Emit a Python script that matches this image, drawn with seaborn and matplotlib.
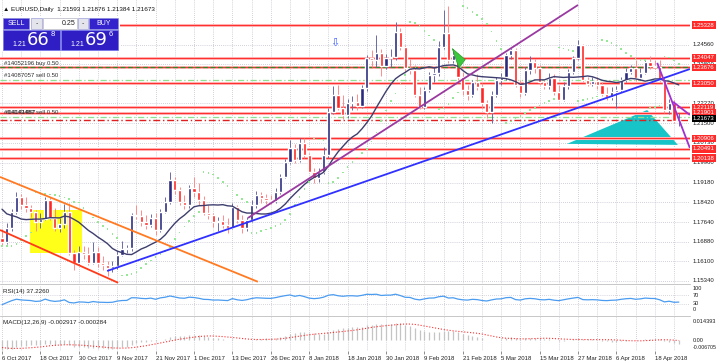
"""
EURUSD daily chart (MT4 style) rebuilt with seaborn / matplotlib.
"""

import matplotlib
matplotlib.use("Agg")

import matplotlib.pyplot as plt
from matplotlib.patches import Polygon, Rectangle
import numpy as np
import pandas as pd
import seaborn as sns


W, H = 717, 363

# closes before the first visible bar (only used to warm up MA / RSI / MACD)
HISTORY_CLOSES = [1.1995, 1.1890, 1.1940, 1.1950, 1.1850, 1.1790, 1.1750,
                  1.1780, 1.1815, 1.1735, 1.1745, 1.1765, 1.1705]

FIRST_OPEN = 1.1702

CLOSES = [
    1.1687, 1.1741, 1.1804, 1.1862, 1.1831, 1.1819, 1.1804, 1.1765, 1.1776, 1.1850,
    1.1780, 1.1741, 1.1757, 1.1804, 1.1644, 1.1605, 1.1648, 1.1640, 1.1605, 1.1648,
    1.1605, 1.1597, 1.1585, 1.1593, 1.1636, 1.1659, 1.1663, 1.1792, 1.1788, 1.1765,
    1.1753, 1.1780, 1.1733, 1.1804, 1.1843, 1.1928, 1.1889, 1.1843, 1.1831, 1.1897,
    1.1882, 1.1850, 1.1800, 1.1792, 1.1765, 1.1768, 1.1753, 1.1741, 1.1823, 1.1772,
    1.1741, 1.1772, 1.1831, 1.1870, 1.1858, 1.1850, 1.1846, 1.1882, 1.1940, 1.1999,
    1.2053, 1.2006, 1.2073, 1.2026, 1.1960, 1.1936, 1.1960, 1.2026, 1.2194, 1.2260,
    1.2209, 1.2182, 1.2229, 1.2232, 1.2217, 1.2287, 1.2404, 1.2396, 1.2424, 1.2373,
    1.2404, 1.2408, 1.2505, 1.2447, 1.2365, 1.2357, 1.2260, 1.2213, 1.2279, 1.2338,
    1.2346, 1.2447, 1.2502, 1.2396, 1.2416, 1.2330, 1.2279, 1.2260, 1.2310, 1.2291,
    1.2229, 1.2194, 1.2260, 1.2318, 1.2330, 1.2416, 1.2435, 1.2299, 1.2268, 1.2357,
    1.2388, 1.2365, 1.2310, 1.2295, 1.2326, 1.2271, 1.2240, 1.2295, 1.2349, 1.2404,
    1.2455, 1.2318, 1.2303, 1.2314, 1.2299, 1.2264, 1.2252, 1.2271, 1.2279, 1.2318,
    1.2349, 1.2365, 1.2326, 1.2346, 1.2388, 1.2373, 1.2369, 1.2318, 1.2201, 1.2229,
    1.2159, 1.21673,
]

HIGHS = [
    1.1735, 1.1760, 1.1815, 1.1880, 1.1875, 1.1860, 1.1830, 1.1810, 1.1800, 1.1860,
    1.1862, 1.1820, 1.1780, 1.1835, 1.1840, 1.1655, 1.1670, 1.1670, 1.1665, 1.1688,
    1.1665, 1.1630, 1.1610, 1.1610, 1.1650, 1.1690, 1.1675, 1.1800, 1.1830, 1.1810,
    1.1790, 1.1795, 1.1800, 1.1815, 1.1860, 1.1960, 1.1940, 1.1900, 1.1870, 1.1910,
    1.1940, 1.1915, 1.1865, 1.1830, 1.1800, 1.1785, 1.1790, 1.1780, 1.1840, 1.1830,
    1.1790, 1.1785, 1.1850, 1.1885, 1.1880, 1.1875, 1.1870, 1.1895, 1.1950, 1.2010,
    1.2085, 1.2070, 1.2090, 1.2090, 1.2035, 1.1975, 1.1975, 1.2055, 1.2210, 1.2295,
    1.2300, 1.2260, 1.2245, 1.2255, 1.2265, 1.2300, 1.2415, 1.2435, 1.2494, 1.2440,
    1.2420, 1.2440, 1.2545, 1.2520, 1.2455, 1.2400, 1.2375, 1.2290, 1.2290, 1.2350,
    1.2370, 1.2470, 1.2590, 1.2606, 1.2440, 1.2425, 1.2350, 1.2300, 1.2320, 1.2340,
    1.2305, 1.2240, 1.2275, 1.2330, 1.2345, 1.2425, 1.2445, 1.2445, 1.2320, 1.2370,
    1.2410, 1.2400, 1.2375, 1.2320, 1.2345, 1.2340, 1.2300, 1.2310, 1.2360, 1.2410,
    1.2475, 1.2460, 1.2330, 1.2330, 1.2330, 1.2310, 1.2290, 1.2290, 1.2295, 1.2330,
    1.2365, 1.2375, 1.2395, 1.2365, 1.2395, 1.2410, 1.2395, 1.2395, 1.2330, 1.2245,
    1.2240, 1.21876,
]

LOWS = [
    1.1670, 1.1680, 1.1730, 1.1795, 1.1815, 1.1805, 1.1785, 1.1730, 1.1740, 1.1770,
    1.1770, 1.1730, 1.1725, 1.1740, 1.1635, 1.1575, 1.1595, 1.1620, 1.1595, 1.1600,
    1.1590, 1.1575, 1.1555, 1.1570, 1.1580, 1.1630, 1.1645, 1.1650, 1.1775, 1.1750,
    1.1735, 1.1745, 1.1715, 1.1725, 1.1800, 1.1835, 1.1875, 1.1830, 1.1815, 1.1820,
    1.1860, 1.1830, 1.1790, 1.1775, 1.1745, 1.1730, 1.1740, 1.1720, 1.1735, 1.1760,
    1.1720, 1.1730, 1.1765, 1.1820, 1.1840, 1.1835, 1.1835, 1.1840, 1.1875, 1.1935,
    1.1990, 1.1995, 1.2000, 1.2015, 1.1955, 1.1915, 1.1920, 1.1950, 1.2015, 1.2185,
    1.2200, 1.2165, 1.2170, 1.2200, 1.2200, 1.2210, 1.2275, 1.2370, 1.2370, 1.2335,
    1.2360, 1.2370, 1.2395, 1.2435, 1.2350, 1.2340, 1.2250, 1.2205, 1.2205, 1.2270,
    1.2310, 1.2335, 1.2440, 1.2385, 1.2385, 1.2320, 1.2260, 1.2240, 1.2250, 1.2280,
    1.2210, 1.2170, 1.2151, 1.2250, 1.2300, 1.2320, 1.2400, 1.2290, 1.2250, 1.2260,
    1.2340, 1.2345, 1.2300, 1.2285, 1.2285, 1.2260, 1.2235, 1.2235, 1.2285, 1.2340,
    1.2395, 1.2310, 1.2295, 1.2295, 1.2285, 1.2255, 1.2240, 1.2240, 1.2210, 1.2270,
    1.2310, 1.2340, 1.2315, 1.2320, 1.2340, 1.2360, 1.2360, 1.2310, 1.2190, 1.2185,
    1.2150, 1.21384,
]

DATE_LABELS = ["6 Oct 2017", "18 Oct 2017", "30 Oct 2017", "9 Nov 2017",
               "21 Nov 2017", "1 Dec 2017", "13 Dec 2017", "26 Dec 2017",
               "8 Jan 2018", "18 Jan 2018", "30 Jan 2018", "9 Feb 2018",
               "21 Feb 2018", "5 Mar 2018", "15 Mar 2018", "27 Mar 2018",
               "6 Apr 2018", "18 Apr 2018"]
LABEL_STEP = 8

RED_LEVELS = [1.25328, 1.24047, 1.23676, 1.23050, 1.22119, 1.21901,
              1.20906, 1.20491, 1.20138]
PRICE_GRID = [1.15340, 1.16100, 1.16880, 1.17640, 1.18420, 1.19180, 1.19960,
              1.20730, 1.21500, 1.22270, 1.23040, 1.23800, 1.24560, 1.25330]
LAST_PRICE = 1.21673

BUY_ORDER = 1.2370
SELL_ORDER_1 = 1.2318
SELL_ORDER_2 = 1.2173
STOP_LINE = 1.2164

# drawn objects: (bar index, price) anchors
ORANGE_LINE = [(-0.42, 1.1940), (53.3, 1.1531)]
CHANNEL_LOW = [(-0.42, 1.1733), (24.2, 1.1527)]
BLUE_LINE = [(21.9, 1.1573), (143.3, 1.2361)]
PURPLE_LINE = [(51.25, 1.1780), (120.0, 1.2611)]
DOWN_LINE_1 = [(136.5, 1.2385), (143.3, 1.2053)]
DOWN_LINE_2 = [(139.8, 1.2233), (143.3, 1.2182)]
CYAN_TRIANGLE = [(117.7, 1.2069), (134.4, 1.2201), (140.8, 1.2065)]
GREEN_FLAG = [(93.8, 1.2441), (96.5, 1.2398), (95.2, 1.2365)]
YELLOW_BOX = (5.8, 1.1644, 16.7, 1.1811)
ARROW_AT = (69.4, 1.2463)

PRICE_TOP, PRICE_BOTTOM = 1.26304, 1.15222
BULL, BEAR = "#2a2a7e", "#ff2626"
LABEL_SIZE = 4.3


def px_axes(fig, x0, y0, x1, y1):
    return fig.add_axes([x0 / W, 1 - y1 / H, (x1 - x0) / W, (y1 - y0) / H])


def parabolic_sar(high, low, step=0.02, max_step=0.2):
    n = len(high)
    sar = np.zeros(n)
    bull, af, ep = True, step, high[0]
    sar[0] = low[0]
    for i in range(1, n):
        s = sar[i - 1] + af * (ep - sar[i - 1])
        if bull:
            s = min(s, low[i - 1], low[max(i - 2, 0)])
            if low[i] < s:
                bull, s, ep, af = False, ep, low[i], step
            elif high[i] > ep:
                ep, af = high[i], min(af + step, max_step)
        else:
            s = max(s, high[i - 1], high[max(i - 2, 0)])
            if high[i] > s:
                bull, s, ep, af = True, ep, high[i], step
            elif low[i] < ep:
                ep, af = low[i], min(af + step, max_step)
        sar[i] = s
    return sar


def style_panel(ax, n):
    ax.set_xlim(-0.4167, 143.33)
    for s in ax.spines.values():
        s.set_visible(False)
    ax.set_xticks([])
    ax.set_yticks([])
    ax.set_facecolor("white")
    for g in range(0, n + 4, 4):
        ax.axvline(g, color="#a8a8bc", lw=0.5, ls=(0, (1, 2)), zorder=0)


def right_label(ax, value, text, box=None, color="#202020", size=LABEL_SIZE):
    kw = dict(transform=ax.get_yaxis_transform(), fontsize=size,
              va="center", ha="left", clip_on=False, color=color)
    if box:
        kw["bbox"] = dict(boxstyle="square,pad=0.2", fc=box, ec="none")
        kw["color"] = "white"
    ax.text(1.004, value, text, **kw)


def main():
    sns.set_theme(style="white")
    plt.rcParams["font.family"] = ["Liberation Sans", "DejaVu Sans"]

    closes = np.array(CLOSES)
    highs = np.array(HIGHS)
    lows = np.array(LOWS)
    n = len(closes)
    idx = np.arange(n)
    opens = np.r_[FIRST_OPEN, closes[:-1]]

    full = pd.Series(HISTORY_CLOSES + CLOSES)
    k = len(HISTORY_CLOSES)
    ma = full.rolling(14, min_periods=1).mean().to_numpy()[k:]
    delta = full.diff().fillna(0)
    gain = delta.clip(lower=0).ewm(alpha=1 / 14, adjust=False).mean()
    loss = (-delta.clip(upper=0)).ewm(alpha=1 / 14, adjust=False).mean()
    rsi = (100 - 100 / (1 + gain / loss.replace(0, np.nan))).fillna(50).to_numpy()[k:]
    macd = (full.ewm(span=12, adjust=False).mean()
            - full.ewm(span=26, adjust=False).mean())
    signal = macd.rolling(9, min_periods=1).mean().to_numpy()[k:]
    macd = macd.to_numpy()[k:]
    sar = parabolic_sar(highs, lows)

    fig = plt.figure(figsize=(W / 100, H / 100), dpi=100)
    fig.patch.set_facecolor("white")

    ax = px_axes(fig, 0, 0, 690, 284)
    style_panel(ax, n)
    ax.set_ylim(PRICE_BOTTOM, PRICE_TOP)
    for g in PRICE_GRID:
        ax.axhline(g, color="#a8a8bc", lw=0.5, ls=(0, (1, 2)), zorder=0)
        right_label(ax, g, f"{g:.5f}")

    # drawn objects under the candles
    x0, y0, x1, y1 = YELLOW_BOX
    ax.add_patch(Rectangle((x0, y0), x1 - x0, y1 - y0, fc="#ffff1a",
                           ec="none", zorder=1))
    ax.add_patch(Polygon(CYAN_TRIANGLE, closed=True, fc="#17c4c8",
                         ec="none", zorder=1))

    for lv in RED_LEVELS:
        ax.axhline(lv, color="#ffb8b8", lw=2.2, zorder=1.5)
        ax.axhline(lv, color="#ff3030", lw=0.8, zorder=1.6)
        right_label(ax, lv, f"{lv:.5f}", box="#ff2a2a")

    ax.axhline(BUY_ORDER, color="#2c8a2c", lw=0.9, ls=(0, (4, 2)), zorder=1.7)
    ax.axhline(SELL_ORDER_1, color="#8fe08f", lw=0.9, ls=(0, (5, 2, 1, 2)), zorder=1.7)
    ax.axhline(SELL_ORDER_2, color="#8fe08f", lw=0.9, ls=(0, (5, 2, 1, 2)), zorder=1.7)
    ax.axhline(STOP_LINE, color="#e02020", lw=1.0, ls=(0, (5, 2, 1, 2)), zorder=1.7)
    order_kw = dict(fontsize=4.3, color="#303030", ha="left", va="bottom", zorder=6)
    ax.text(0.5, BUY_ORDER + 0.0002, "#14052196 buy 0.50", **order_kw)
    ax.text(0.5, SELL_ORDER_1 + 0.0009, "#14087057 sell 0.50", **order_kw)
    ax.text(0.5, SELL_ORDER_2 + 0.0009, "#14143487 sell 0.50", **order_kw)
    ax.text(0.8, SELL_ORDER_2 + 0.0010, "#14141487", **order_kw)

    # candles
    up = closes >= opens
    body = np.maximum(np.abs(closes - opens), 0.00025)
    base = np.minimum(opens, closes)
    ax.vlines(idx[up], lows[up], highs[up], color="#6a6aa8", lw=0.7, zorder=3)
    ax.vlines(idx[~up], lows[~up], highs[~up], color="#ff8c8c", lw=0.7, zorder=3)
    ax.bar(idx[up], body[up], bottom=base[up], width=0.64, color=BULL, zorder=3.5)
    ax.bar(idx[~up], body[~up], bottom=base[~up], width=0.64, color=BEAR, zorder=3.5)

    sns.lineplot(x=idx, y=ma, ax=ax, color="#3e3e6e", linewidth=1.0, zorder=4)
    sns.scatterplot(x=idx, y=sar, ax=ax, color="#96e896", s=1.6, marker="s",
                    edgecolor="none", zorder=4)

    for line, col in [(ORANGE_LINE, "#ff7a22"), (CHANNEL_LOW, "#ff3a1a"),
                      (BLUE_LINE, "#3030ff"), (PURPLE_LINE, "#9a3aa0"),
                      (DOWN_LINE_1, "#a030d0"), (DOWN_LINE_2, "#a030d0")]:
        (xa, ya), (xb, yb) = line
        ax.plot([xa, xb], [ya, yb], color=col, lw=1.3, zorder=5,
                solid_capstyle="butt")
    ax.add_patch(Polygon(GREEN_FLAG, closed=True, fc="#3cc83c", ec="#2a9a2a",
                         lw=0.5, zorder=5))
    ax.text(*ARROW_AT, "\u21e9", color="#4060ff", fontsize=8, ha="center",
            va="center", zorder=6, family="DejaVu Sans")

    right_label(ax, LAST_PRICE, f"{LAST_PRICE:.5f}", box="#000000")
    ax.set_xlabel("")
    ax.set_ylabel("")

    # RSI panel
    rax = px_axes(fig, 0, 285, 690, 316)
    style_panel(rax, n)
    rax.set_ylim(-28.6, 119)
    for lv in (70, 30):
        rax.axhline(lv, color="#b0b0c0", lw=0.5, ls=(0, (1, 2)), zorder=0)
    sns.lineplot(x=idx, y=rsi, ax=rax, color="#4b9cf0", linewidth=0.9)
    for lv in (100, 70, 30, 0):
        right_label(rax, lv, str(lv), size=4.0)
    rax.text(0.004, 0.78, "RSI(14) 37.2260", transform=rax.transAxes,
             fontsize=4.5, color="#202020", va="center")
    rax.set_xlabel("")
    rax.set_ylabel("")

    # MACD panel
    max_ = px_axes(fig, 0, 317, 690, 351)
    style_panel(max_, n)
    max_.set_ylim(-0.008268, 0.01830)
    max_.vlines(idx, 0, macd, color="#c4c4c4", lw=0.9)
    sns.lineplot(x=idx, y=signal, ax=max_, color="#ff3030", linewidth=0.8,
                 linestyle=":")
    right_label(max_, 0.014393, "0.014393", size=4.0)
    right_label(max_, 0.0, "0.00", size=4.0)
    right_label(max_, -0.0058, "-0.006705", size=3.8)
    max_.text(0.004, 0.84, "MACD(12,26,9) -0.002917 -0.000284",
              transform=max_.transAxes, fontsize=4.5, color="#202020",
              va="center")
    max_.set_xticks(range(0, LABEL_STEP * len(DATE_LABELS), LABEL_STEP))
    max_.set_xticklabels(DATE_LABELS, fontsize=4.3, color="#202020", ha="left")
    max_.tick_params(axis="x", length=2, pad=1.5, color="#606060", width=0.5,
                     bottom=True)
    max_.set_xlabel("")
    max_.set_ylabel("")
    for a in (ax, rax):
        a.spines["bottom"].set_visible(True)
        a.spines["bottom"].set_color("#b0b0b0")
        a.spines["bottom"].set_linewidth(0.5)

    # one-click trading panel and header, drawn in pixel space
    ov = fig.add_axes([0, 0, 1, 1], zorder=10)
    ov.set_xlim(0, W)
    ov.set_ylim(H, 0)
    ov.axis("off")
    ov.patch.set_alpha(0)
    ov.text(3, 10, "\u25b2 EURUSD,Daily  1.21593 1.21876 1.21384 1.21673",
            fontsize=4.6, color="#101010", va="center")
    ov.add_patch(Rectangle((0, 16), 120, 35, fc="white", ec="none"))
    blue = "#3422cc"
    boxes = [((3, 18, 26, 11), blue, "SELL", "white"),
             ((31, 18, 11, 11), "#e4e4ec", "-", "#404040"),
             ((78, 18, 10, 11), "#e4e4ec", "-", "#404040"),
             ((89, 18, 29, 11), blue, "BUY", "white")]
    for (bx, by, bw, bh), fc, label, tc in boxes:
        ov.add_patch(Rectangle((bx, by), bw, bh, fc=fc, ec="#8a8ad8", lw=0.4))
        ov.text(bx + bw / 2, by + bh / 2, label, fontsize=5, color=tc,
                ha="center", va="center")
    ov.add_patch(Rectangle((43, 18), 34, 11, fc="white", ec="#a0a0b0", lw=0.4))
    ov.text(75, 23.5, "0.25", fontsize=5, ha="right", va="center", color="#202020")
    for bx, big, sup in [(3, "66", "8"), (61, "69", "6")]:
        ov.add_patch(Rectangle((bx, 30), 57, 20, fc="#2e1ec4", ec="#7070e8", lw=0.5))
        ov.text(bx + 9, 44, "1.21", fontsize=5, color="white", va="center")
        ov.text(bx + 24, 40, big, fontsize=13, color="white", va="center",
                family="DejaVu Sans")
        ov.text(bx + 48, 34.5, sup, fontsize=5.5, color="white", va="center")

    fig.savefig("out.png", dpi=100, facecolor="white")
    plt.close(fig)


if __name__ == "__main__":
    main()
